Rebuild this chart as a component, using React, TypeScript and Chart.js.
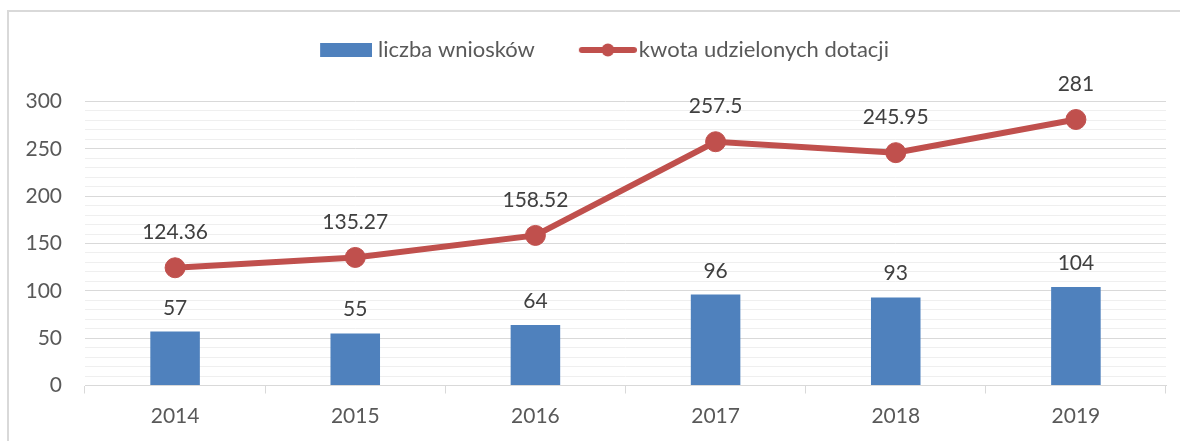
import React, { useEffect, useRef } from "react";
import { Chart, registerables } from "chart.js";

Chart.register(...registerables);

// ---- data ----
const categories = ["2014", "2015", "2016", "2017", "2018", "2019"];
const applications = [57, 55, 64, 96, 93, 104];
const grants = [124.36, 135.27, 158.52, 257.5, 245.95, 281];
const yTickLabels = [0, 50, 100, 150, 200, 250, 300];
const seriesNames = ["liczba wniosków", "kwota udzielonych dotacji"];

// ---- style ----
const BLUE = "#4F81BD";
const RED = "#C0504D";
const FONT = "Lato";

function makeImg(w: number, h: number, draw: (c: CanvasRenderingContext2D) => void) {
  const c = document.createElement("canvas");
  c.width = w;
  c.height = h;
  const ctx = c.getContext("2d");
  if (ctx) draw(ctx);
  return c;
}

const dataLabelPlugin = {
  id: "dataLabels",
  afterDatasetsDraw(chart: any) {
    const ctx = chart.ctx;
    ctx.save();
    ctx.font = `21px ${FONT}`;
    ctx.fillStyle = "#404040";
    ctx.textAlign = "center";
    ctx.textBaseline = "alphabetic";
    chart.getDatasetMeta(0).data.forEach((el: any, i: number) => {
      ctx.fillText(String(applications[i]), el.x, el.y - 17);
    });
    chart.getDatasetMeta(1).data.forEach((el: any, i: number) => {
      ctx.fillText(String(grants[i]), el.x, el.y - 28.5);
    });
    ctx.restore();
  },
};

export default function App() {
  const ref = useRef<HTMLCanvasElement | null>(null);

  useEffect(() => {
    if (!ref.current) return;
    const blueImg = makeImg(76, 14, (c) => {
      c.fillStyle = BLUE;
      c.fillRect(24, 0, 52, 14);
    });
    const redImg = makeImg(84, 14, (c) => {
      c.strokeStyle = RED;
      c.lineWidth = 6;
      c.lineCap = "round";
      c.beginPath();
      c.moveTo(29, 7);
      c.lineTo(81, 7);
      c.stroke();
      c.fillStyle = RED;
      c.beginPath();
      c.arc(55, 7, 6.5, 0, Math.PI * 2);
      c.fill();
    });

    const chart = new Chart(ref.current, {
      type: "bar",
      data: {
        labels: categories,
        datasets: [
          {
            type: "bar",
            label: seriesNames[0],
            data: applications,
            backgroundColor: BLUE,
            borderWidth: 0,
            categoryPercentage: 1,
            barPercentage: 0.275,
          } as any,
          {
            type: "line",
            label: seriesNames[1],
            data: grants,
            borderColor: RED,
            backgroundColor: RED,
            borderWidth: 6,
            pointRadius: 10,
            pointBorderWidth: 1,
            pointBackgroundColor: RED,
            pointBorderColor: RED,
            tension: 0,
            fill: false,
          } as any,
        ],
      },
      options: {
        responsive: false,
        animation: false,
        devicePixelRatio: 1,
        layout: { padding: { top: 12, left: 24, right: 14, bottom: 0 } },
        plugins: {
          tooltip: { enabled: false },
          title: {
            display: true,
            text: "",
            position: "top",
            weight: 500,
            font: { size: 10, lineHeight: 1 },
            padding: { top: 20.5, bottom: 0 },
          },
          legend: {
            display: true,
            position: "top",
            labels: {
              usePointStyle: true,
              pointStyleWidth: 66,
              boxHeight: 22,
              padding: 27,
              color: "#595959",
              font: { family: FONT, size: 22 },
              generateLabels: (c: any) => {
                const items = (Chart.defaults.plugins.legend.labels as any).generateLabels(c);
                if (items[0]) items[0].pointStyle = blueImg;
                if (items[1]) items[1].pointStyle = redImg;
                return items;
              },
            },
          },
        },
        scales: {
          x: {
            offset: true,
            grid: {
              display: true,
              offset: true,
              drawOnChartArea: false,
              drawTicks: true,
              tickLength: 8,
              color: "#d9d9d9",
              lineWidth: 1,
            },
            border: { display: true, color: "#d9d9d9", width: 1 },
            ticks: {
              color: "#595959",
              font: { family: FONT, size: 21 },
              padding: 10,
            },
            afterFit: (s: any) => {
              s.height = 55.5;
            },
          },
          y: {
            min: 0,
            max: 300,
            ticks: {
              stepSize: 10,
              autoSkip: false,
              padding: 23,
              color: "#595959",
              font: { family: FONT, size: 21 },
              callback: (v: any) => (yTickLabels.includes(Number(v)) ? String(v) : ""),
            },
            grid: {
              drawTicks: false,
              lineWidth: 1,
              color: (ctx: any) =>
                ctx.tick && yTickLabels.includes(ctx.tick.value) ? "#d9d9d9" : "#efefef",
            },
            border: { display: false },
            afterFit: (s: any) => {
              s.width = 61;
            },
          },
        },
      } as any,
      plugins: [dataLabelPlugin],
    });
    return () => chart.destroy();
  }, []);

  return (
    <>
      <div
        style={{
          position: "fixed",
          left: 7,
          top: 10,
          width: 1300,
          height: 600,
          border: "2px solid #d9d9d9",
          boxSizing: "border-box",
          pointerEvents: "none",
        }}
      />
      <canvas
        ref={ref}
        width={1180}
        height={441}
        style={{ position: "fixed", left: 0, top: 0, width: 1180, height: 441 }}
      />
    </>
  );
}
